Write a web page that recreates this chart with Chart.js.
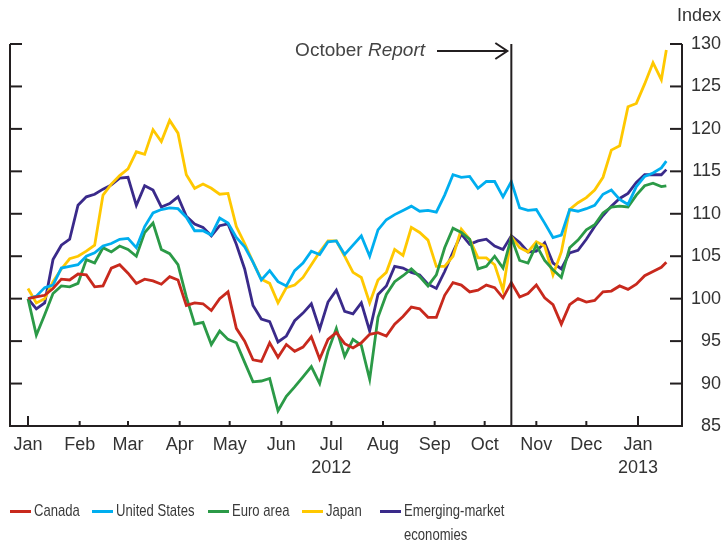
<!DOCTYPE html>
<html>
<head>
<meta charset="utf-8">
<script src="https://cdn.jsdelivr.net/npm/chart.js@4.4.1/dist/chart.umd.min.js"></script>
<style>
  body { margin: 0; background: #fff; }
  #wrap { position: relative; width: 724px; height: 544px; }
  #legend { position: absolute; left: 0; top: 499px; width: 724px; height: 45px;
    font: 17px "Liberation Sans", Arial, sans-serif; color: #3a3a3a; }
  .item { position: absolute; top: 0; display: flex; align-items: flex-start; line-height: 24px; }
  .swatch { width: 21px; height: 3px; margin-top: 11px; margin-right: 3px; flex: none; }
  .txt { display: inline-block; white-space: nowrap; transform: scaleX(0.77); transform-origin: 0 0; }
</style>
</head>
<body>
<div id="wrap">
  <canvas id="chart" width="724" height="544"></canvas>
  <div id="legend"></div>
</div>
<script>
// days since 1 Jan 2012
const days = [0, 5, 10, 15, 20, 25, 30, 35, 40, 45, 50, 55, 60, 65, 70, 75, 80, 85, 90, 95,
  100, 105, 110, 115, 120, 125, 130, 135, 140, 145, 150, 155, 160, 165, 170, 175, 180, 185, 190, 195,
  200, 205, 210, 215, 220, 225, 230, 235, 240, 245, 250, 255, 260, 265, 270, 275, 280, 285, 290, 295,
  300, 305, 310, 315, 320, 325, 330, 335, 340, 345, 350, 355, 360, 365, 370, 375, 380, 383];

const canada = [100, 100.2, 100.4, 101.2, 102.3, 102.2, 102.9, 102.8, 101.4, 101.5,
  103.6, 104, 103, 101.8, 102.3, 102.1, 101.7, 102.6, 102.2, 99.2,
  99.5, 99.4, 98.6, 100, 100.8, 96.5, 95, 92.8, 92.6, 94.8,
  93.1, 94.6, 93.8, 94.3, 95.5, 92.9, 95.2, 96, 94.7, 94.2,
  94.8, 95.8, 96, 95.6, 97, 97.9, 99, 98.8, 97.8, 97.8,
  100.4, 101.9, 101.6, 100.8, 101, 101.6, 101.3, 100.1, 101.9, 100.2,
  100.6, 101.6, 100.1, 99.3, 97, 99.3, 100, 99.6, 99.8, 100.8,
  100.9, 101.5, 101.1, 101.7, 102.7, 103.2, 103.7, 104.3];

const unitedStates = [100, 100.3, 101.3, 101.6, 103.6, 103.8, 104, 105, 105.4, 106.2,
  106.5, 107, 107.1, 106, 108.5, 110.1, 110.5, 110.7, 110.6, 109.6,
  108, 108, 107.5, 109.5, 108.9, 107.2, 106.1, 104.3, 102.2, 103.3,
  102, 101.5, 103.3, 104.2, 105.6, 105.2, 106.7, 106.8, 105.2, 106.3,
  107.4, 105, 108.1, 109.3, 109.9, 110.4, 110.9, 110.3, 110.4, 110.2,
  112.2, 114.6, 114.3, 114.4, 113, 113.8, 113.8, 112, 113.8, 110.7,
  110.4, 110.5, 108.9, 107.2, 107.5, 110.5, 110.3, 110.6, 111, 112.3,
  112.8, 111.7, 111.1, 113.2, 114.4, 114.8, 115.4, 116.2];

const euroArea = [100, 95.7, 98.1, 100.6, 101.5, 101.4, 101.8, 104.6, 104.2, 106,
  105.5, 106.2, 105.8, 105, 107.8, 108.9, 105.8, 105.3, 104, 100.2,
  97, 97.2, 94.6, 96.2, 95.2, 94.8, 92.5, 90.2, 90.3, 90.6,
  86.8, 88.5, 89.6, 90.8, 92, 90, 93.8, 96.5, 93.2, 95.2,
  94.5, 90.5, 97.8, 100.5, 102, 102.7, 103.5, 102.6, 101.5, 102.8,
  106, 108.3, 107.8, 107, 103.5, 103.8, 105, 103.6, 107.2, 104.5,
  104.2, 106.3, 104.5, 103.4, 102.5, 106, 106.9, 108.1, 108.7, 110.1,
  110.8, 110.9, 110.8, 112.2, 113.3, 113.6, 113.2, 113.3];

const japan = [101.2, 99.5, 100, 102, 103.5, 104.7, 105, 105.6, 106.3, 112.2,
  113.5, 114.5, 115.3, 117.3, 117, 119.9, 118.5, 121, 119.5, 114.6,
  113, 113.5, 113, 112.3, 112.4, 108.5, 106.5, 104.3, 102.3, 101.8,
  99.5, 101.3, 101.6, 102.5, 104, 105.5, 106.8, 106.8, 105, 103.1,
  102.5, 99.5, 102.2, 103.1, 105.8, 105.1, 108.4, 107.8, 106.9, 103.8,
  103.8, 105, 108.2, 107, 104.8, 104.8, 104, 101, 107.3, 106,
  105.5, 106.7, 106.2, 102.8, 105.5, 110.5, 111.3, 111.9, 112.8, 114.3,
  117.5, 118, 122.6, 123, 125.3, 127.8, 125.8, 129.3];

const emerging = [100, 98.8, 99.5, 104.6, 106.3, 107, 111, 112, 112.3, 112.9,
  113.4, 114.2, 114.3, 111, 113.3, 112.8, 110.8, 111.2, 112, 109.7,
  108.8, 108.4, 107.4, 108.6, 108.8, 106.4, 103.5, 99.2, 97.6, 97.3,
  94.9, 95.6, 97.4, 98.3, 99.4, 96.4, 99.6, 101, 98.5, 98.2,
  99.5, 96.2, 100.5, 101.5, 103.8, 103.6, 103.1, 102.8, 101.7, 101.2,
  103.2, 105.5, 107.6, 106.4, 106.8, 107, 106.2, 105.8, 107.4, 106.6,
  105.5, 105.6, 106.6, 104.2, 103.5, 105.4, 105.7, 107, 108.5, 109.8,
  110.9, 111.8, 112.4, 113.7, 114.6, 114.6, 114.6, 115.2];

const monthStarts = [0, 31, 60, 91, 121, 152, 182, 213, 244, 274, 305, 335, 366];
const monthLabels = ['Jan', 'Feb', 'Mar', 'Apr', 'May', 'Jun', 'Jul', 'Aug', 'Sep', 'Oct', 'Nov', 'Dec', 'Jan'];
const yearLabels = ['', '', '', '', '', '', '2012', '', '', '', '', '', '2013'];
const yTicks = [85, 90, 95, 100, 105, 110, 115, 120, 125, 130];
const reportDay = 290;

const seriesNames = ['Canada', 'United States', 'Euro area', 'Japan', 'Emerging-market economies'];
const legendLines = [['Canada'], ['United States'], ['Euro area'], ['Japan'], ['Emerging-market', 'economies']];
const seriesColors = ['#c8291d', '#00aeef', '#2b9a47', '#ffc800', '#3a2a8a'];
const seriesValues = [canada, unitedStates, euroArea, japan, emerging];

const fontFamily = '"Liberation Sans", Arial, sans-serif';
const textColor = '#333333';

const framePlugin = {
  id: 'frame',
  afterDraw(chart) {
    const { ctx, chartArea: a, scales: { x, y } } = chart;
    ctx.save();
    ctx.strokeStyle = '#231f20';
    ctx.lineWidth = 2;
    const seg = (x1, y1, x2, y2) => { ctx.beginPath(); ctx.moveTo(x1, y1); ctx.lineTo(x2, y2); ctx.stroke(); };

    // axes frame (no top)
    ctx.beginPath();
    ctx.moveTo(a.left, a.top);
    ctx.lineTo(a.left, a.bottom);
    ctx.lineTo(a.right, a.bottom);
    ctx.lineTo(a.right, a.top);
    ctx.stroke();

    yTicks.forEach(v => {
      const py = y.getPixelForValue(v);
      seg(a.left, py, a.left + 12, py);
      seg(a.right - 12, py, a.right, py);
    });
    monthStarts.forEach((d, i) => {
      const px = x.getPixelForValue(d);
      seg(px, a.bottom, px, a.bottom - (monthLabels[i] === 'Jan' ? 10 : 5));
    });

    // report line
    const rx = x.getPixelForValue(reportDay);
    seg(rx, a.top, rx, a.bottom);

    // arrow + annotation
    const ay = 51;
    const tip = rx - 4;
    seg(437, ay, tip, ay);
    ctx.beginPath();
    ctx.moveTo(tip - 12, ay - 8);
    ctx.lineTo(tip, ay);
    ctx.lineTo(tip - 12, ay + 8);
    ctx.stroke();

    ctx.fillStyle = '#444';
    ctx.textBaseline = 'middle';
    ctx.textAlign = 'left';
    ctx.font = 'italic 19px ' + fontFamily;
    const wItalic = ctx.measureText('Report').width;
    ctx.font = '19px ' + fontFamily;
    const wNormal = ctx.measureText('October ').width;
    const endX = 425;
    ctx.fillText('October ', endX - wItalic - wNormal, ay);
    ctx.font = 'italic 19px ' + fontFamily;
    ctx.fillText('Report', endX - wItalic, ay);

    ctx.font = '18px ' + fontFamily;
    ctx.fillStyle = textColor;
    ctx.textAlign = 'right';
    ctx.fillText('Index', 721, 16);
    ctx.restore();
  }
};

new Chart(document.getElementById('chart'), {
  type: 'line',
  data: {
    datasets: seriesNames.map((name, k) => ({
      label: name,
      data: days.map((d, i) => ({ x: d, y: seriesValues[k][i] })),
      borderColor: seriesColors[k],
      backgroundColor: seriesColors[k],
      borderWidth: 2.8,
      pointRadius: 0,
      tension: 0,
      fill: false
    }))
  },
  options: {
    responsive: false,
    animation: false,
    layout: { padding: { left: 10, top: 44, right: 3, bottom: 0 } },
    plugins: { legend: { display: false }, tooltip: { enabled: false } },
    scales: {
      x: {
        type: 'linear',
        min: -10.8,
        max: 392.4,
        grid: { display: false, drawTicks: false },
        border: { display: false },
        afterBuildTicks: s => { s.ticks = monthStarts.map(v => ({ value: v })); },
        afterFit: s => { s.height = 118; },
        ticks: {
          autoSkip: false,
          maxRotation: 0,
          padding: 8,
          color: textColor,
          font: { size: 18, family: fontFamily, lineHeight: 1.25 },
          callback: (v, i) => yearLabels[i] ? [monthLabels[i], yearLabels[i]] : monthLabels[i]
        }
      },
      y: {
        position: 'right',
        min: 85,
        max: 130,
        grid: { display: false, drawTicks: false },
        border: { display: false },
        afterFit: s => { s.width = 39; },
        ticks: {
          stepSize: 5,
          crossAlign: 'far',
          padding: 0,
          color: textColor,
          font: { size: 18, family: fontFamily }
        }
      }
    }
  },
  plugins: [framePlugin]
});

// legend
const legendLeft = [10, 92, 208, 302, 380];
const legend = document.getElementById('legend');
seriesNames.forEach((name, k) => {
  const item = document.createElement('div');
  item.className = 'item';
  item.style.left = legendLeft[k] + 'px';
  const sw = document.createElement('span');
  sw.className = 'swatch';
  sw.style.background = seriesColors[k];
  const txt = document.createElement('span');
  txt.className = 'txt';
  legendLines[k].forEach((line, j) => {
    if (j) txt.appendChild(document.createElement('br'));
    txt.appendChild(document.createTextNode(line));
  });
  item.appendChild(sw);
  item.appendChild(txt);
  legend.appendChild(item);
});
</script>
</body>
</html>
